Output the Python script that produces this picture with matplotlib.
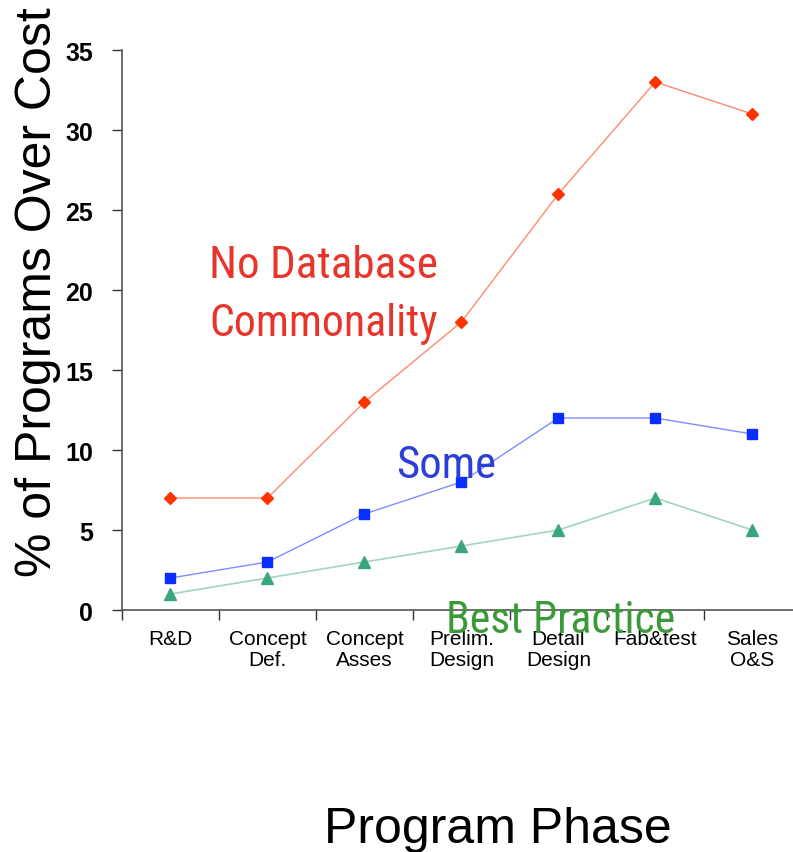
import matplotlib
matplotlib.use("Agg")
from matplotlib import pyplot as plt
from matplotlib import font_manager
from matplotlib.font_manager import FontProperties
import numpy as np

phases = ["R&D", "Concept\nDef.", "Concept\nAsses", "Prelim.\nDesign",
          "Detail\nDesign", "Fab&test", "Sales\nO&S"]
no_database = [7, 7, 13, 18, 26, 33, 31]
some = [2, 3, 6, 8, 12, 12, 11]
best_practice = [1, 2, 3, 4, 5, 7, 5]

plt.rcParams["font.family"] = "Liberation Sans"

# look for a condensed face for the series captions
narrow = None
for want in ("Liberation Sans Narrow", "Noto Sans", "Open Sans", "Roboto", "DejaVu Sans"):
    for f in font_manager.fontManager.ttflist:
        if (f.name.startswith(want) and f.style == "normal"
                and f.weight in (400, "normal", "regular")
                and ("Narrow" in f.name or f.stretch in ("condensed", "semi-condensed")
                     or "Condensed" in f.fname)):
            narrow = f.fname
            break
    if narrow:
        break


def caption_font(size):
    if narrow:
        return FontProperties(fname=narrow, size=size)
    return FontProperties(family="Liberation Sans", size=size)


fig = plt.figure(figsize=(7.93, 8.53), dpi=100)
ax = fig.add_axes([0.1538, 0.2837, 0.8462, 0.6565])

x = np.arange(len(phases))
ax.plot(x, no_database, color="#ff8a70", lw=1.0, zorder=2)
ax.plot(x, no_database, ls="none", marker="D", ms=6, color="#ff3300", zorder=3)
ax.plot(x, some, color="#7d8cff", lw=1.0, zorder=2)
ax.plot(x, some, ls="none", marker="s", ms=7, color="#0a2eff", zorder=3)
ax.plot(x, best_practice, color="#9fd6bd", lw=1.2, zorder=2)
ax.plot(x, best_practice, ls="none", marker="^", ms=8, color="#3aa67c", zorder=3)

ax.set_xlim(-0.5, 6.42)
ax.set_ylim(0, 35)
ax.set_yticks(range(0, 36, 5))
ax.tick_params(axis="y", length=7.2, width=1, pad=13.5, labelsize=18, color="#333333")
for lab in ax.get_yticklabels():
    lab.set_fontweight("bold")

ax.set_xticks(x)
ax.set_xticklabels(phases, fontsize=15, linespacing=1.12)
ax.set_xticks(np.arange(-0.5, 6.0, 1.0), minor=True)
ax.tick_params(axis="x", which="major", length=0, pad=14)
ax.tick_params(axis="x", which="minor", length=7, width=1, color="#333333")

for side in ("top", "right"):
    ax.spines[side].set_visible(False)
for side in ("left", "bottom"):
    ax.spines[side].set_color("#555555")
    ax.spines[side].set_linewidth(1.2)

fig.text(38 / 793, 1 - 292 / 853, "% of Programs Over Cost", fontsize=36,
         rotation=90, ha="center", va="center")
fig.text(498 / 793, 1 - 830 / 853, "Program Phase", fontsize=36,
         ha="center", va="center")

captions = [
    ("No Database", 0.40, 20.81, "#e8352b", 229),
    ("Commonality", 0.40, 17.19, "#e8352b", 229),
    ("Some", 2.33, 8.31, "#2b3fd8", 100),
    ("Best Practice", 2.84, -1.375, "#3a9a3a", 229),
]
renderer = fig.canvas.get_renderer()
for label, cx, cy, color, width_px in captions:
    t = ax.text(cx, cy, label, fontproperties=caption_font(33), color=color,
                va="baseline", clip_on=False, zorder=5)
    w = t.get_window_extent(renderer).width
    # keep the caption about as wide as the space it labels
    size = min(33, 33 * width_px / w)
    t.set_fontproperties(caption_font(size))

fig.savefig("out.png", dpi=100)
